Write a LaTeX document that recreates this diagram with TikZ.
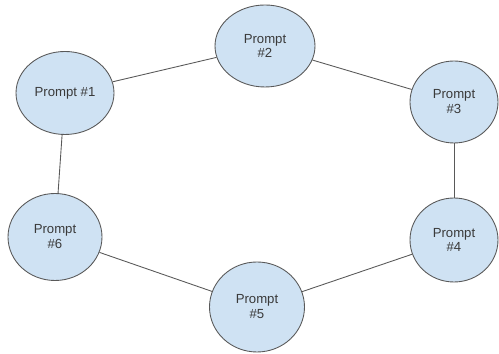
\documentclass[tikz,border=0pt]{standalone}
\usepackage{fontspec}
\setmainfont{Liberation Sans}
\usepackage{xcolor}
\usepackage{tikz}
\usetikzlibrary{shapes.geometric}
\definecolor{promptfill}{HTML}{CFE2F3}
\definecolor{promptline}{HTML}{595959}
\definecolor{prompttext}{HTML}{3A3A3A}

\begin{document}
\begin{tikzpicture}[every node/.style={font=\fontsize{7.5}{8.5}\selectfont},
  prompt/.style={draw=promptline, ellipse, fill=promptfill, text=prompttext, line width=0.5pt, align=center, inner sep=0pt, minimum width=1.9cm, minimum height=1.68cm}]
\useasboundingbox (0,0) rectangle (9.98,7.08);
% Prompt ring
\node[prompt, minimum width=1.96cm, minimum height=1.66cm] (P1) at (1.30, 5.22) {Prompt \#1};
\node[prompt, minimum width=2.0cm, minimum height=1.64cm] (P2) at (5.30, 6.16) {Prompt\\\#2};
\node[prompt, minimum width=1.76cm, minimum height=1.64cm] (P3) at (9.08, 5.04) {Prompt\\\#3};
\node[prompt, minimum width=1.76cm, minimum height=1.68cm] (P4) at (9.08, 2.28) {Prompt\\\#4};
\node[prompt, minimum width=1.9cm, minimum height=1.8cm] (P5) at (5.14, 0.94) {Prompt\\\#5};
\node[prompt, minimum width=1.88cm, minimum height=1.74cm] (P6) at (1.10, 2.34) {Prompt\\\#6};

% Links
\draw[promptline, line width=0.5pt] (P1) -- (P2);
\draw[promptline, line width=0.5pt] (P2) -- (P3);
\draw[promptline, line width=0.5pt] (P3) -- (P4);
\draw[promptline, line width=0.5pt] (P4) -- (P5);
\draw[promptline, line width=0.5pt] (P5) -- (P6);
\draw[promptline, line width=0.5pt] (P6) -- (P1);
\end{tikzpicture}
\end{document}
